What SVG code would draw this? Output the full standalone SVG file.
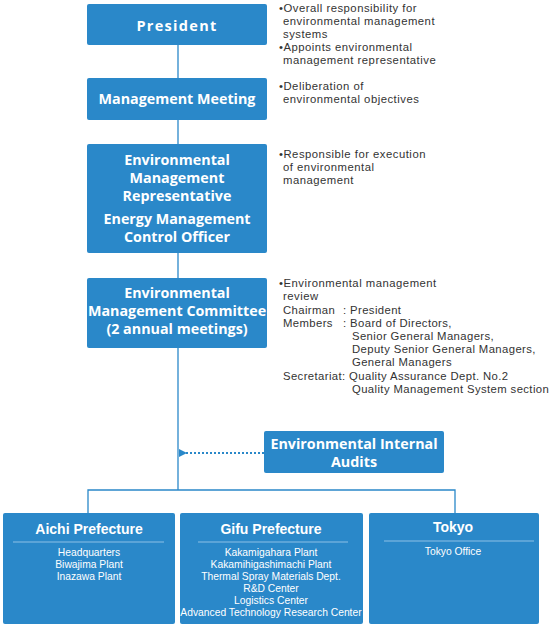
<svg xmlns="http://www.w3.org/2000/svg" width="550" height="626" viewBox="0 0 550 626">
<style>
.box{fill:#2a88c9;}
.t{fill:#fff;font-family:"Open Sans","Liberation Sans",Arial,sans-serif;font-weight:bold;font-size:14.3px;text-anchor:middle;}
.p{fill:#fff;font-family:"Liberation Sans",Arial,sans-serif;font-weight:bold;font-size:14px;text-anchor:middle;}
.s{fill:#fff;font-family:"Liberation Sans",Arial,sans-serif;font-size:10.3px;text-anchor:middle;}
.n{fill:#333;font-family:"Liberation Sans",Arial,sans-serif;font-size:11.3px;letter-spacing:0.5px;}
.m{fill:#333;font-family:"Liberation Sans",Arial,sans-serif;font-size:11.3px;letter-spacing:0.4px;}
.ln{stroke:#2a88c9;stroke-width:1.3;fill:none;}
.dv{stroke:#8cc0e6;stroke-width:1;}
</style>
<defs>
<marker id="ah" markerWidth="8" markerHeight="8" refX="7" refY="4" orient="auto" markerUnits="userSpaceOnUse">
<path d="M8,0 L0,4 L8,8 Z" fill="#2a88c9"/>
</marker>
</defs>
<g id="connectors">
<line class="ln" x1="178" y1="45" x2="178" y2="490"/>
<polyline class="ln" points="88,513 88,490 455,490 455,513"/>
<line x1="264" y1="453" x2="180" y2="453" stroke="#2a88c9" stroke-width="2" stroke-dasharray="2,2" marker-end="url(#ah)"/>
</g>
<g id="president">
<rect class="box" x="87" y="4" width="180" height="41" rx="2"/>
<text class="t" x="177" y="31" style="letter-spacing:1.3px;font-size:14.5px">President</text>
</g>
<g id="management-meeting">
<rect class="box" x="87" y="78" width="180" height="42" rx="2"/>
<text class="t" x="177" y="104">Management Meeting</text>
</g>
<g id="env-rep">
<rect class="box" x="87" y="144" width="180" height="109" rx="2"/>
<text class="t" x="177" y="165">Environmental</text>
<text class="t" x="177" y="183">Management</text>
<text class="t" x="177" y="201">Representative</text>
<text class="t" x="177" y="224">Energy Management</text>
<text class="t" x="177" y="242">Control Officer</text>
</g>
<g id="env-committee">
<rect class="box" x="87" y="278" width="180" height="70" rx="2"/>
<text class="t" x="177" y="298">Environmental</text>
<text class="t" x="177" y="316">Management Committee</text>
<text class="t" x="177" y="334">(2 annual meetings)</text>
</g>
<g id="internal-audits">
<rect class="box" x="264" y="431" width="180" height="42" rx="2"/>
<text class="t" x="354" y="449">Environmental Internal</text>
<text class="t" x="354" y="467">Audits</text>
</g>
<g id="aichi">
<rect class="box" x="3" y="513" width="172" height="111" rx="2"/>
<text class="p" x="89" y="534">Aichi Prefecture</text>
<line class="dv" x1="13" y1="542" x2="164" y2="542"/>
<text class="s" x="89" y="556">Headquarters</text>
<text class="s" x="89" y="568">Biwajima Plant</text>
<text class="s" x="89" y="580">Inazawa Plant</text>
</g>
<g id="gifu">
<rect class="box" x="180" y="513" width="183" height="111" rx="2"/>
<text class="p" x="271" y="534">Gifu Prefecture</text>
<line class="dv" x1="198" y1="542" x2="348" y2="542"/>
<text class="s" x="271" y="556">Kakamigahara Plant</text>
<text class="s" x="271" y="568">Kakamihigashimachi Plant</text>
<text class="s" x="271" y="580">Thermal Spray Materials Dept.</text>
<text class="s" x="271" y="592">R&amp;D Center</text>
<text class="s" x="271" y="604">Logistics Center</text>
<text class="s" x="271" y="616">Advanced Technology Research Center</text>
</g>
<g id="tokyo">
<rect class="box" x="369" y="513" width="170" height="111" rx="2"/>
<text class="p" x="453" y="532">Tokyo</text>
<line class="dv" x1="384" y1="541" x2="534" y2="541"/>
<text class="s" x="453" y="555">Tokyo Office</text>
</g>
<g id="notes">
<text class="n" x="279" y="12">•Overall responsibility for</text>
<text class="n" x="283" y="25">environmental management</text>
<text class="n" x="283" y="38">systems</text>
<text class="n" x="279" y="51">•Appoints environmental</text>
<text class="n" x="283" y="64">management representative</text>
<text class="n" x="279" y="90">•Deliberation of</text>
<text class="n" x="283" y="103">environmental objectives</text>
<text class="n" x="279" y="158">•Responsible for execution</text>
<text class="n" x="283" y="171">of environmental</text>
<text class="n" x="283" y="184">management</text>
<text class="n" x="279" y="287">•Environmental management</text>
<text class="n" x="283" y="300">review</text>
<text class="m" x="283" y="314">Chairman</text>
<text class="m" x="343" y="314">: President</text>
<text class="m" x="283" y="327">Members</text>
<text class="m" x="343" y="327">: Board of Directors,</text>
<text class="m" x="352" y="340">Senior General Managers,</text>
<text class="m" x="352" y="353">Deputy Senior General  Managers,</text>
<text class="m" x="352" y="366">General Managers</text>
<text class="m" x="283" y="380">Secretariat: Quality Assurance Dept. No.2</text>
<text class="m" x="352" y="393">Quality Management System section</text>
</g>
</svg>
